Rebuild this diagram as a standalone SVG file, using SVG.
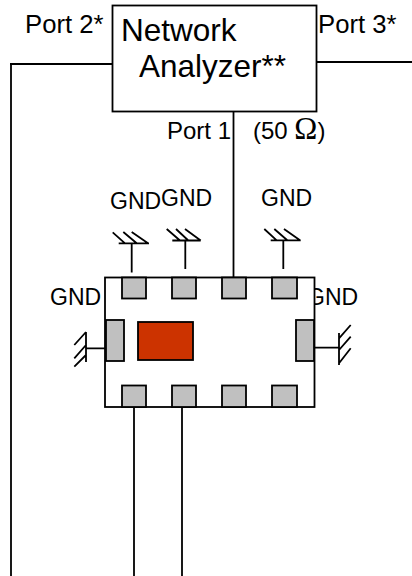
<svg xmlns="http://www.w3.org/2000/svg" width="412" height="576" viewBox="0 0 412 576">
<style>
text{font-family:"Liberation Sans",Arial,sans-serif;font-size:23px;fill:#000}
.port{font-size:25.700px}
.p1{font-size:24px}
.big{font-size:31.500px}
.sym{font-family:"Liberation Serif","Times New Roman",serif;font-size:31px}
.box{fill:#fff;stroke:#000;stroke-width:1.800}
.pad{fill:#c0c0c0;stroke:#000;stroke-width:1.800}
.ln{fill:none;stroke:#000;stroke-width:1.800}
</style>
<rect width="412" height="576" fill="#fff"/>
<g id="labels">
<text class="port" x="25" y="33">Port 2*</text>
<text class="port" x="318" y="33">Port 3*</text>
<text class="p1" x="167" y="139">Port 1</text>
<text class="p1" x="253" y="139">(50 <tspan class="sym">Ω</tspan>)</text>
<text x="50" y="305">GND</text>
<text x="307" y="305">GND</text>
<text x="110" y="209">GND</text>
<text x="161" y="206">GND</text>
<text x="261" y="206">GND</text>
</g>
<g id="connectors" class="ln">
<path d="M10 64H114M11 64V576"/>
<path d="M316 62H412"/>
<path d="M233.500 112V277"/>
<path d="M134 407V576M182 407V576"/>
</g>
<g id="analyzer">
<rect class="box" x="112.500" y="5.500" width="204" height="106"/>
<text class="big" x="121" y="41">Network</text>
<text class="big" x="139" y="77">Analyzer**</text>
</g>
<g id="device">
<rect class="box" x="105" y="277.500" width="209.500" height="129.500"/>
<rect class="pad" x="122" y="277.500" width="24" height="21"/>
<rect class="pad" x="172" y="277.500" width="24" height="21"/>
<rect class="pad" x="222" y="277.500" width="24" height="21"/>
<rect class="pad" x="272" y="277.500" width="25" height="21"/>
<rect class="pad" x="122" y="385.500" width="24" height="21.500"/>
<rect class="pad" x="172" y="385.500" width="24" height="21.500"/>
<rect class="pad" x="222" y="385.500" width="24" height="21.500"/>
<rect class="pad" x="272" y="385.500" width="25" height="21.500"/>
<rect class="pad" x="106" y="320" width="18" height="41"/>
<rect class="pad" x="296" y="320" width="18" height="41"/>
<rect x="138" y="322" width="55" height="38" fill="#cc3300" stroke="#000" stroke-width="1.800"/>
</g>
<g id="gnd-top-1" class="ln"><path d="M131.700 272.500V243.300M118.700 243.300H149M112.700 232.300L125 243.300M123.300 232L136.700 243.300M131.700 232L148 243.300"/></g>
<g id="gnd-top-2" class="ln"><path d="M185.300 269V240.500M172.300 240.500H200.700M166.700 229L180 240.500M176 229L188.300 240.500M185 229L200.700 240.500"/></g>
<g id="gnd-top-3" class="ln"><path d="M283.300 269V240.300M270.700 240.300H300.700M264.300 229L276.700 240.300M274.300 229L287.300 240.300M284 229L300 240.300"/></g>
<g id="gnd-left" class="ln"><path d="M105 348.300H86M86 332V362M86 332L74.300 345M86 345L74.300 358.300M86 355L74.300 366.700"/></g>
<g id="gnd-right" class="ln"><path d="M314 347.700H339M339 333V365M350.700 325L339 338.300M350.700 336.700L339 350M350.700 348.300L339 363.300"/></g>
</svg>
